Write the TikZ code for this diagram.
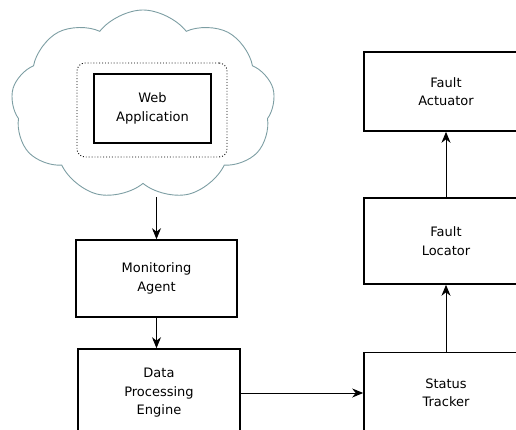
\documentclass[tikz,border=0pt]{standalone}
\usepackage{fontspec}
\setmainfont{DejaVu Sans}
\usetikzlibrary{shapes.symbols,arrows.meta}
\definecolor{cloudline}{RGB}{125,158,163}
\begin{document}
\begin{tikzpicture}[x=1pt,y=-1pt,>={Stealth[length=11pt,width=9pt,inset=3.5pt]},
  block/.style={draw,line width=1.6pt,align=center,font=\fontsize{13}{18.5}\selectfont},
  flow/.style={->,line width=0.9pt}]
\path[use as bounding box,clip](0,0)rectangle(516,430);
\node[cloud,draw=cloudline,line width=0.9pt,cloud puffs=9,cloud puff arc=105,cloud ignores aspect,minimum width=264,minimum height=190](cloud)at(143,105){};%雲
\node[draw,dotted,line width=0.9pt,rounded corners=8pt,minimum width=150,minimum height=94](host)at(152,110){};
\node[block,minimum width=117,minimum height=69](webapp)at(152.5,108.5){Web\\Application};
\node[block,minimum width=161,minimum height=77](monitor)at(156.5,278.5){Monitoring\\Agent};
\node[block,minimum width=162,minimum height=88](dpe)at(159,393){Data\\Processing\\Engine};
\node[block,minimum width=164,minimum height=81](tracker)at(446,393){Status\\Tracker};
\node[block,minimum width=164,minimum height=86](locator)at(446,241){Fault\\Locator};
\node[block,minimum width=164,minimum height=79](actuator)at(446,91.5){Fault\\Actuator};
\coordinate(cloudfoot)at(156.5,197);%雲の下端
\draw[flow](cloudfoot)--(monitor.north);
\draw[flow](monitor.south)--(monitor.south|-dpe.north);
\draw[flow](dpe)--(tracker);
\draw[flow](tracker)--(locator);
\draw[flow](locator)--(actuator);
\end{tikzpicture}
\end{document}
